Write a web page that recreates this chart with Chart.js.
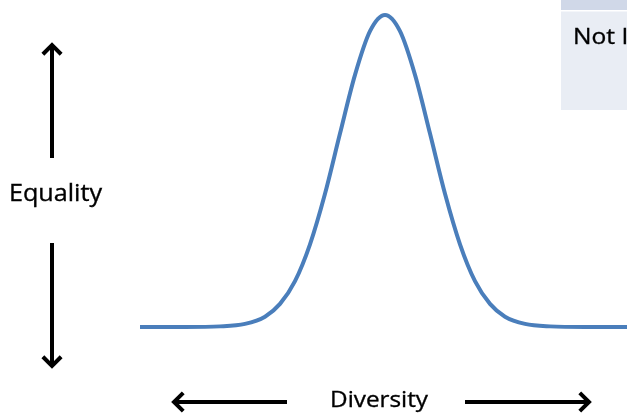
<!DOCTYPE html>
<html>
<head>
<meta charset="utf-8">
<style>
    html, body { margin: 0; padding: 0; background: #fff; }
    #wrap { width: 627px; height: 413px; position: relative; }
</style>
<script src="https://cdn.jsdelivr.net/npm/chart.js@4/dist/chart.umd.min.js"></script>
</head>
<body>
<div id="wrap"><canvas id="curveChart" width="627" height="413"></canvas></div>
<script>
// Bell curve (x in page px, y as % of peak height)
const curveX = [140, 185, 220, 245, 265, 280, 295, 310, 325, 340, 355, 370, 385,
                400, 415, 430, 445, 460, 475, 490, 505, 525, 550, 585, 627];
const curveY = [0, 0, 0.2, 1.0, 3.3, 7.4, 14.7, 26.5, 42.7, 62, 80.8, 94.8, 100,
                94.8, 80.8, 62, 42.7, 26.5, 14.7, 7.4, 3.3, 1.0, 0.2, 0, 0];

const yLabel = 'Equality';
const xLabel = 'Diversity';
const boxLabel = 'Not Included';

// Text with a given font size, squeezed sideways so that `fitPart` is `width` wide
function drawText(ctx, text, x, y, size, fitPart, width, align) {
    ctx.save();
    ctx.font = size + 'px "Open Sans"';
    const w = ctx.measureText(fitPart).width;
    const sx = width / w;
    const full = ctx.measureText(text).width * sx;
    let left = x;
    if (align === 'center') left = x - full / 2;
    ctx.translate(left, y);
    ctx.scale(sx, 1);
    ctx.textAlign = 'left';
    ctx.textBaseline = 'alphabetic';
    ctx.fillStyle = '#000';
    ctx.strokeStyle = '#000';
    ctx.lineWidth = 0.35;
    ctx.fillText(text, 0, 0);
    ctx.strokeText(text, 0, 0);
    ctx.restore();
}

function arrow(ctx, x1, y1, x2, y2) {
    // line from (x1,y1) to tip (x2,y2)
    const ang = Math.atan2(y2 - y1, x2 - x1);
    const head = 13;
    ctx.save();
    ctx.strokeStyle = '#000';
    ctx.lineWidth = 4;
    ctx.lineCap = 'butt';
    ctx.beginPath();
    ctx.moveTo(x1, y1);
    ctx.lineTo(x2 - Math.cos(ang) * 2, y2 - Math.sin(ang) * 2);
    ctx.stroke();
    ctx.lineJoin = 'miter';
    ctx.beginPath();
    ctx.moveTo(x2 - Math.cos(ang - 0.78) * head, y2 - Math.sin(ang - 0.78) * head);
    ctx.lineTo(x2, y2);
    ctx.lineTo(x2 - Math.cos(ang + 0.78) * head, y2 - Math.sin(ang + 0.78) * head);
    ctx.stroke();
    ctx.restore();
}

const decorations = {
    id: 'decorations',
    beforeDraw(chart) {
        const ctx = chart.ctx;
        ctx.save();
        // table box in the top right corner
        ctx.fillStyle = '#e9edf4';
        ctx.fillRect(561, 0, 70, 110);
        ctx.fillStyle = '#d0d8e8';
        ctx.fillRect(561, 0, 70, 10);
        ctx.fillStyle = '#ffffff';
        ctx.fillRect(561, 10, 70, 1.5);
        ctx.restore();
    },
    afterDraw(chart) {
        const ctx = chart.ctx;
        // box text (cut off by the edge)
        drawText(ctx, boxLabel, 573, 44, 22.5, 'Not', 42, 'left');

        // vertical axis
        arrow(ctx, 52, 158, 52, 45);
        arrow(ctx, 52, 243, 52, 366);
        drawText(ctx, yLabel, 55.5, 200.5, 23.5, yLabel, 93, 'center');

        // horizontal axis
        arrow(ctx, 287, 402, 174, 402);
        arrow(ctx, 465, 402, 589, 402);
        drawText(ctx, xLabel, 379, 406.5, 22.5, xLabel, 98, 'center');
    }
};

const chart = new Chart(document.getElementById('curveChart').getContext('2d'), {
    type: 'line',
    data: {
        datasets: [{
            data: curveX.map((x, i) => ({ x: x, y: curveY[i] })),
            borderColor: '#4a7ebb',
            borderWidth: 4,
            pointRadius: 0,
            fill: false,
            cubicInterpolationMode: 'monotone',
            clip: false
        }]
    },
    options: {
        responsive: false,
        animation: false,
        layout: { padding: { top: 15, bottom: 86, left: 0, right: 0 } },
        plugins: { legend: { display: false }, tooltip: { enabled: false } },
        scales: {
            x: { type: 'linear', min: 0, max: 627, display: false },
            y: { min: 0, max: 100, display: false }
        }
    },
    plugins: [decorations]
});
</script>
</body>
</html>
